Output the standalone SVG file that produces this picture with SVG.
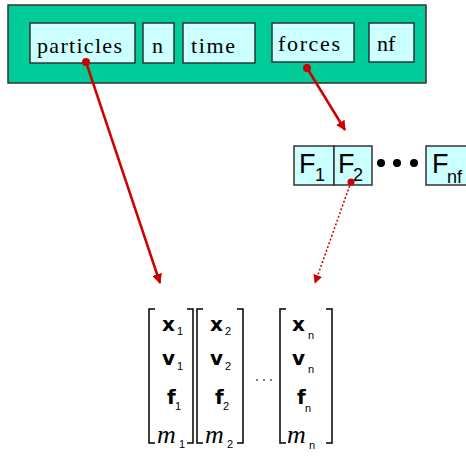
<svg xmlns="http://www.w3.org/2000/svg" width="466" height="456" viewBox="0 0 466 456">
<style>
.box{fill:#CCFFFF;stroke:#333;stroke-width:1.5}
.lbl{font-family:"Liberation Serif",serif;font-size:22px;fill:#000}
.fl{font-family:"Liberation Sans",sans-serif;font-size:27px;fill:#000}
.fs{font-family:"Liberation Sans",sans-serif;font-size:18px;fill:#000}
.mv{font-family:"DejaVu Sans",sans-serif;font-size:20px;font-weight:bold;fill:#000}
.mi{font-family:"Liberation Serif",serif;font-size:26px;font-style:italic;fill:#000}
.sub{font-family:"Liberation Sans",sans-serif;font-size:11px;fill:#000}
.br{fill:none;stroke:#000;stroke-width:1.5}
.arr{stroke:#CC0000;stroke-width:2.5;fill:none}
</style>
<defs>
<marker id="ah" viewBox="0 0 10 10" refX="9" refY="5" markerWidth="4" markerHeight="4" orient="auto" markerUnits="strokeWidth"><path d="M0,0 L10,5 L0,10 z" fill="#CC0000"/></marker>
<marker id="ah2" viewBox="0 0 10 10" refX="9" refY="5" markerWidth="6" markerHeight="6" orient="auto" markerUnits="strokeWidth"><path d="M0,0 L10,5 L0,10 z" fill="#CC0000"/></marker>
</defs>
<g id="struct">
<rect x="8" y="5" width="418" height="78" fill="#00CC99" stroke="#333" stroke-width="1.5"/>
</g>
<g id="particles"><rect class="box" x="30" y="23" width="105" height="40"/><text class="lbl" x="37" y="53" textLength="85">particles</text></g>
<g id="n"><rect class="box" x="143" y="23" width="31" height="40"/><text class="lbl" x="152" y="53">n</text></g>
<g id="time"><rect class="box" x="183" y="23" width="72" height="40"/><text class="lbl" x="191" y="53" textLength="44">time</text></g>
<g id="forces"><rect class="box" x="272" y="23" width="82" height="39"/><text class="lbl" x="278" y="51" textLength="62">forces</text></g>
<g id="nf"><rect class="box" x="369" y="23" width="45" height="39"/><text class="lbl" x="377" y="51">nf</text></g>
<g id="F1"><rect class="box" x="294" y="146" width="40" height="39"/><text class="fl" x="299" y="173">F</text><text class="fs" x="315" y="181">1</text></g>
<g id="F2"><rect class="box" x="334" y="146" width="38" height="39"/><text class="fl" x="338" y="173">F</text><text class="fs" x="353" y="181">2</text></g>
<g id="dots"><circle cx="381" cy="163" r="4"/><circle cx="397" cy="163" r="4"/><circle cx="414" cy="163" r="4"/></g>
<g id="Fnf"><rect class="box" x="426" y="146" width="45" height="39"/><text class="fl" x="432" y="173">F</text><text class="fs" x="447" y="183">nf</text></g>
<g id="matrix">
<path class="br" d="M155,309 H149 V443 H155"/>
<path class="br" d="M187,309 H193 V443 H187"/>
<path class="br" d="M203,309 H197 V443 H203"/>
<path class="br" d="M237,309 H243 V443 H237"/>
<path class="br" d="M286,309 H280 V443 H286"/>
<path class="br" d="M326,309 H332 V443 H326"/>
<text class="mv" x="162" y="331">x</text><text class="sub" x="177" y="335">1</text>
<text class="mv" x="162" y="365">v</text><text class="sub" x="177" y="370">1</text>
<text class="mv" x="167" y="404">f</text><text class="sub" x="175" y="410">1</text>
<text class="mi" x="157" y="443">m</text><text class="sub" x="179" y="448">1</text>
<text class="mv" x="210" y="331">x</text><text class="sub" x="225" y="335">2</text>
<text class="mv" x="210" y="365">v</text><text class="sub" x="225" y="370">2</text>
<text class="mv" x="215" y="404">f</text><text class="sub" x="223" y="410">2</text>
<text class="mi" x="205" y="443">m</text><text class="sub" x="227" y="448">2</text>
<text class="mv" x="292" y="331">x</text><text class="sub" x="308" y="339">n</text>
<text class="mv" x="292" y="365">v</text><text class="sub" x="308" y="373">n</text>
<text class="mv" x="297" y="404">f</text><text class="sub" x="305" y="412">n</text>
<text class="mi" x="287" y="443">m</text><text class="sub" x="309" y="449">n</text>
<g fill="#555"><circle cx="257" cy="380" r="1"/><circle cx="264" cy="380" r="1"/><circle cx="271" cy="380" r="1"/></g>
</g>
<g id="connectors">
<circle cx="86" cy="62" r="4" fill="#CC0000"/>
<line class="arr" x1="86" y1="62" x2="160" y2="283" marker-end="url(#ah)"/>
<circle cx="307" cy="68" r="4" fill="#CC0000"/>
<line class="arr" x1="307" y1="68" x2="345" y2="130" marker-end="url(#ah)"/>
<circle cx="351" cy="182" r="3.5" fill="#CC0000"/>
<line x1="351" y1="182" x2="315" y2="283" stroke="#CC0000" stroke-width="1.5" stroke-dasharray="2,2" marker-end="url(#ah2)"/>
</g>
</svg>
